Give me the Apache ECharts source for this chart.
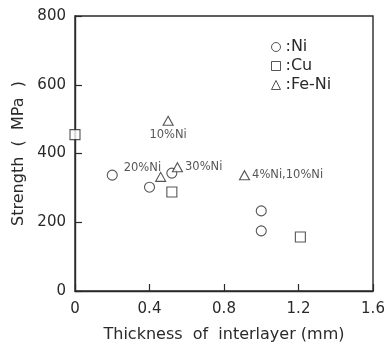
<!DOCTYPE html>
<html><head><meta charset="utf-8">
<script src="https://cdn.jsdelivr.net/npm/echarts@6/dist/echarts.min.js"></script>
<style>html,body{margin:0;padding:0;background:#fff}#c{width:389px;height:349px}</style>
</head><body><div id="c"></div>
<script>
// Data (thickness mm, strength MPa)
const niX = [0.2, 0.4, 0.52, 1.0, 1.0];
const niY = [337, 302, 343, 233, 175];
const cuX = [0, 0.52, 1.21];
const cuY = [455, 288, 157];
const feX = [0.5, 0.46, 0.55, 0.91];
const feY = [495, 332, 360, 337];
const feLabels = ['10%Ni', '20%Ni', '30%Ni', '4%Ni,10%Ni'];
const xTicks = [0, 0.4, 0.8, 1.2, 1.6];
const yTicks = [0, 200, 400, 600, 800];

const FONT = 'DejaVu Sans';
const INK = '#2a2a2a';
const sym = { color: '#fff', borderColor: INK, borderWidth: 1.1 };

const labelPos = [
  { position: 'bottom', distance: 3 },
  { position: 'left', distance: 0, offset: [6, -9] },
  { position: 'right', distance: 2 },
  { position: 'right', distance: 2 }
];

const chart = echarts.init(document.getElementById('c'), null, { renderer: 'canvas' });
chart.setOption({
  animation: false,
  backgroundColor: '#fff',
  textStyle: { fontFamily: FONT },
  grid: { left: 75, top: 16, width: 298, height: 275, show: true, borderColor: INK, borderWidth: 1.4, backgroundColor: 'transparent' },
  legend: {
    orient: 'vertical', left: 266, top: 34, itemGap: 3, itemWidth: 9, itemHeight: 9,
    itemStyle: { color: '#fff', borderColor: INK, borderWidth: 1 },
    textStyle: { fontFamily: FONT, fontSize: 16, lineHeight: 16, color: INK },
    formatter: n => ':' + n,
    data: ['Ni', 'Cu', 'Fe-Ni']
  },
  xAxis: {
    type: 'value', min: 0, max: 1.6, interval: 0.4,
    name: 'Thickness  of  interlayer (mm)', nameLocation: 'middle', nameGap: 36,
    nameTextStyle: { fontFamily: FONT, fontSize: 16, color: INK },
    axisLine: { show: true, lineStyle: { color: INK, width: 1.4 } },
    axisTick: { show: true, inside: true, length: 7, lineStyle: { color: INK, width: 1.2 } },
    axisLabel: { fontFamily: FONT, fontSize: 15, color: INK, margin: 11, formatter: v => String(xTicks.find(t => Math.abs(t - v) < 1e-9) ?? v) },
    splitLine: { show: false }
  },
  yAxis: {
    type: 'value', min: 0, max: 800, interval: 200,
    name: 'Strength  (  MPa  )', nameLocation: 'middle', nameGap: 47,
    nameTextStyle: { fontFamily: FONT, fontSize: 16, color: INK },
    axisLine: { show: true, lineStyle: { color: INK, width: 1.4 } },
    axisTick: { show: true, inside: true, length: 7, lineStyle: { color: INK, width: 1.2 } },
    axisLabel: { fontFamily: FONT, fontSize: 15, color: INK, margin: 9, formatter: v => String(yTicks.find(t => t === v) ?? v) },
    splitLine: { show: false }
  },
  series: [
    { name: 'Ni', type: 'scatter', symbol: 'circle', symbolSize: 10, itemStyle: sym,
      data: niX.map((x, i) => [x, niY[i]]) },
    { name: 'Cu', type: 'scatter', symbol: 'rect', symbolSize: 10, itemStyle: sym,
      data: cuX.map((x, i) => [x, cuY[i]]) },
    { name: 'Fe-Ni', type: 'scatter', symbol: 'triangle', symbolSize: [10, 9], itemStyle: sym,
      data: feX.map((x, i) => ({ value: [x, feY[i]],
        label: Object.assign({ show: true, formatter: feLabels[i], fontFamily: FONT, fontSize: 11.5, color: INK }, labelPos[i]) })) }
  ]
});
</script></body></html>
